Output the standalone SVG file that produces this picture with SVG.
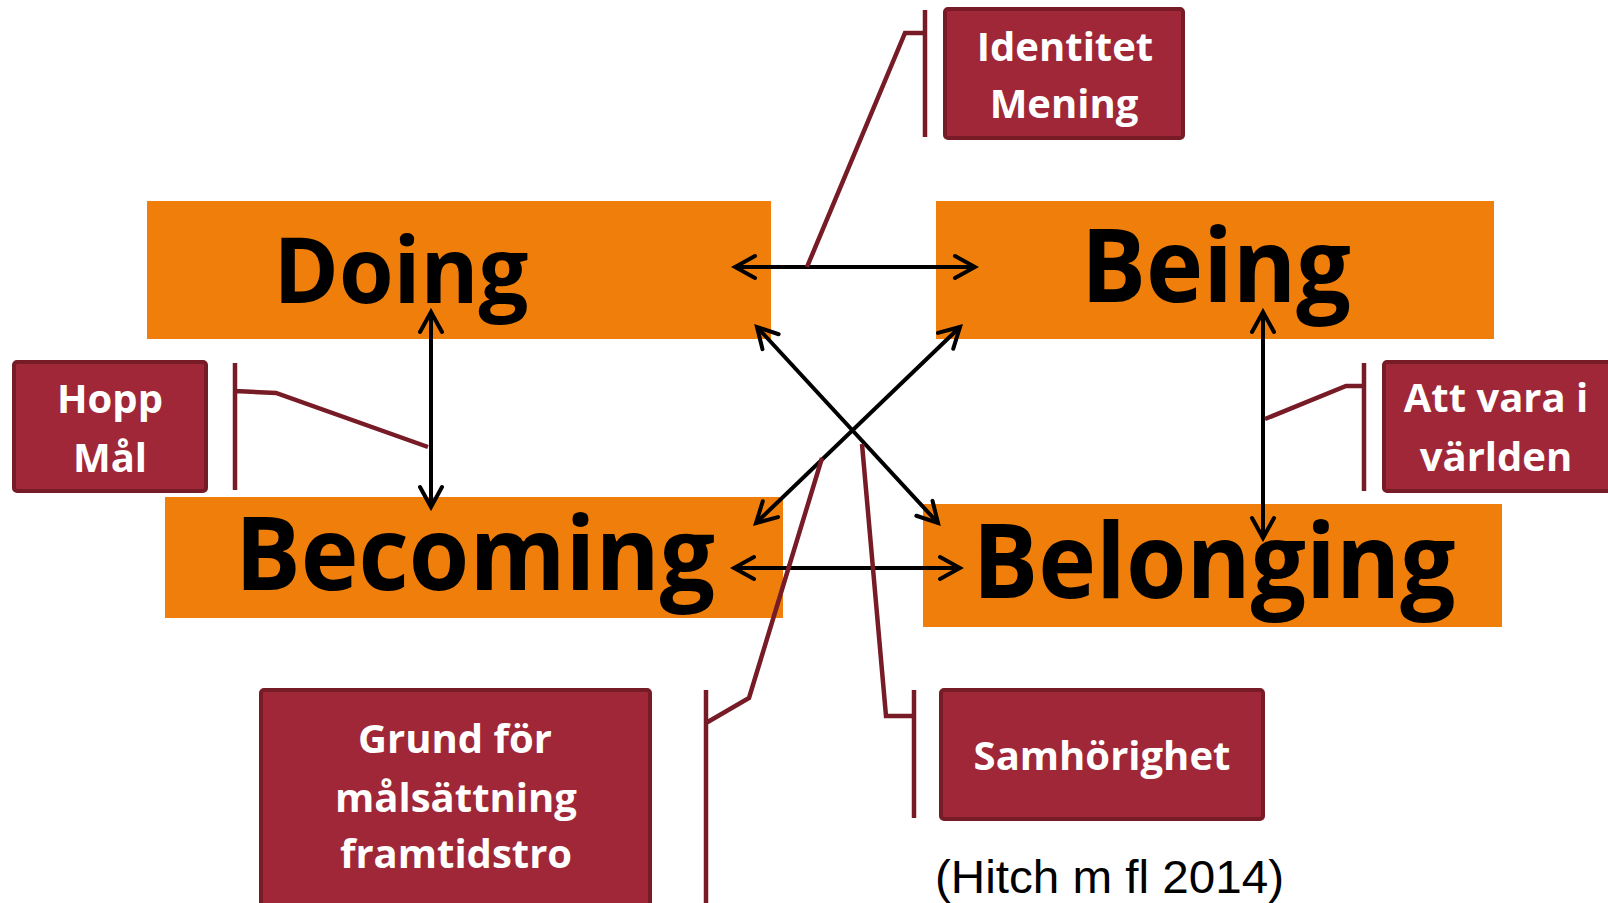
<svg xmlns="http://www.w3.org/2000/svg" width="1608" height="903" viewBox="0 0 1608 903">
<style>
.main{fill:#EF7F0A}
.big{font-family:"Open Sans","Liberation Sans",sans-serif;font-weight:700;fill:#000;text-anchor:middle}
.lbl{fill:#A02737;stroke:#771B26;stroke-width:4}
.lt{font-family:"Open Sans","Liberation Sans",sans-serif;font-weight:700;font-size:40px;fill:#fff;text-anchor:middle}
.arr{fill:none;stroke:#000;stroke-width:4;marker-start:url(#ah);marker-end:url(#ah)}
.call{fill:none;stroke:#771B26;stroke-width:4.5}
.cite{font-family:"Liberation Sans",Arial,sans-serif;font-size:47px;fill:#000}
</style>
<defs>
<marker id="ah" markerUnits="userSpaceOnUse" viewBox="-24 -14 28 28" refX="0" refY="0" markerWidth="28" markerHeight="28" orient="auto-start-reverse">
<path d="M-20,-11 L0,0 L-20,11" fill="none" stroke="#000" stroke-width="4" stroke-linecap="round" stroke-linejoin="miter"/>
</marker>
</defs>
<rect width="1608" height="903" fill="#fff"/>
<g id="doing"><rect class="main" x="147" y="201" width="624" height="138"/><text class="big" x="401" y="303" font-size="91" textLength="255" lengthAdjust="spacingAndGlyphs">Doing</text></g>
<g id="being"><rect class="main" x="936" y="201" width="558" height="138"/><text class="big" x="1216" y="302" font-size="103" textLength="270" lengthAdjust="spacingAndGlyphs">Being</text></g>
<g id="becoming"><rect class="main" x="165" y="497" width="618" height="121"/><text class="big" x="475" y="590" font-size="102" textLength="480" lengthAdjust="spacingAndGlyphs">Becoming</text></g>
<g id="belonging"><rect class="main" x="923" y="504" width="579" height="123"/><text class="big" x="1214" y="598" font-size="104" textLength="483" lengthAdjust="spacingAndGlyphs">Belonging</text></g>
<g id="connectors">
<path class="arr" d="M735,267 L975,267"/>
<path class="arr" d="M431,312 L431,507"/>
<path class="arr" d="M1263,312 L1263,538"/>
<path class="arr" d="M734,568 L960,568"/>
<path class="arr" d="M757,327 L938,523"/>
<path class="arr" d="M960,327 L756,523"/>
</g>
<g id="callouts">
<path class="call" d="M925,10 L925,137 M925,33 L905,33 L807,267"/>
<path class="call" d="M235,363 L235,490 M235,391 L276,393 L428,447"/>
<path class="call" d="M1364,363 L1364,491 M1364,386 L1346,386 L1265,419"/>
<path class="call" d="M706,690 L706,903 M706,723 L749,698 L822,458"/>
<path class="call" d="M914,690 L914,818 M914,716 L886,716 L862,444"/>
</g>
<g id="identitet"><rect class="lbl" x="945" y="9" width="238" height="129" rx="3"/><text class="lt" x="1065" y="61">Identitet</text><text class="lt" x="1064" y="118">Mening</text></g>
<g id="hopp"><rect class="lbl" x="14" y="362" width="192" height="129" rx="3"/><text class="lt" x="110" y="413">Hopp</text><text class="lt" x="110" y="472">Mål</text></g>
<g id="attvara"><rect class="lbl" x="1384" y="362" width="230" height="129" rx="3"/><text class="lt" x="1496" y="412">Att vara i</text><text class="lt" x="1496" y="471">världen</text></g>
<g id="grund"><rect class="lbl" x="261" y="690" width="389" height="225" rx="3"/><text class="lt" x="455" y="753">Grund för</text><text class="lt" x="456" y="812">målsättning</text><text class="lt" x="456" y="868">framtidstro</text></g>
<g id="samhorighet"><rect class="lbl" x="941" y="690" width="322" height="129" rx="3"/><text class="lt" x="1102" y="770">Samhörighet</text></g>
<text class="cite" x="935" y="893" textLength="349" lengthAdjust="spacingAndGlyphs">(Hitch m fl 2014)</text>
</svg>
